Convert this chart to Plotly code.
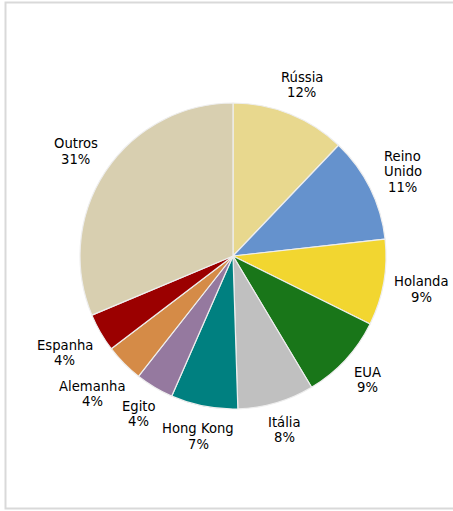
import math
import plotly.graph_objects as go

# Export share by destination (%)
labels = ["Rússia", "Reino Unido", "Holanda", "EUA", "Itália",
          "Hong Kong", "Egito", "Alemanha", "Espanha", "Outros"]
label_lines = [["Rússia"], ["Reino", "Unido"], ["Holanda"], ["EUA"], ["Itália"],
               ["Hong Kong"], ["Egito"], ["Alemanha"], ["Espanha"], ["Outros"]]
values = [12, 11, 9, 9, 8, 7, 4, 4, 4, 31]
colors = ["#E8D88E", "#6592CD", "#F2D630", "#197619", "#C0C0C0",
          "#008080", "#95799F", "#D58B47", "#9B0000", "#D8CFB0"]

W, H = 453, 511
FONT = "DejaVu Sans"
FSIZE = 13.2
LINE_H = 15.5

# pie geometry in pixels
CX, CY, R = 233, 256, 153
GAP = 9

# approximate DejaVu Sans advance widths (em) for label sizing
ADV = {"R": .695, "ú": .634, "s": .521, "i": .278, "a": .613, "e": .615,
       "n": .634, "o": .612, "U": .732, "d": .635, "H": .752, "l": .278,
       "E": .632, "A": .684, "I": .295, "t": .392, "á": .613, "K": .656,
       "g": .635, " ": .318, "h": .634, "p": .635, "m": .974, "O": .787,
       "u": .634, "r": .411, "%": .950}


def text_width(s):
    return sum(ADV.get(c, .636) for c in s) * FSIZE


fig = go.Figure(go.Pie(
    labels=labels,
    values=values,
    sort=False,
    direction="clockwise",
    rotation=0,
    marker=dict(colors=colors, line=dict(color="#EEEEEE", width=1.2)),
    textinfo="none",
    domain=dict(x=[(CX - R) / W, (CX + R) / W], y=[1 - (CY + R) / H, 1 - (CY - R) / H]),
    showlegend=False,
    hoverinfo="label+value",
))

# outside labels: name lines plus the percentage, placed radially at each slice's mid-angle
annotations = []
total = sum(values)
cum = 0
for lines, v in zip(label_lines, values):
    mid = 2 * math.pi * (cum + v / 2) / total
    cum += v
    rows = lines + [f"{v}%"]
    w = max(text_width(t) for t in rows)
    h = len(rows) * LINE_H
    s, c = math.sin(mid), math.cos(mid)
    d = R + GAP + (w / 2) * abs(s) + (h / 2) * abs(c)
    bx, by = CX + d * s, CY - d * c
    for i, t in enumerate(rows):
        py = by + (i - (len(rows) - 1) / 2) * LINE_H
        annotations.append(dict(
            x=bx / W, y=1 - py / H, xref="paper", yref="paper",
            text=t, showarrow=False, xanchor="center", yanchor="middle",
            borderpad=0,
            font=dict(family=FONT, size=FSIZE, color="#000000"),
        ))

fig.update_layout(
    width=W, height=H,
    margin=dict(l=0, r=0, t=0, b=0),
    paper_bgcolor="white",
    plot_bgcolor="white",
    annotations=annotations,
    shapes=[dict(type="rect", xref="paper", yref="paper",
                 x0=5.5 / W, x1=1.05, y0=1 - 508.5 / H, y1=1 - 2.5 / H,
                 line=dict(color="#D9D9D9", width=2), fillcolor="rgba(0,0,0,0)")],
)

fig.write_html("out.html")
